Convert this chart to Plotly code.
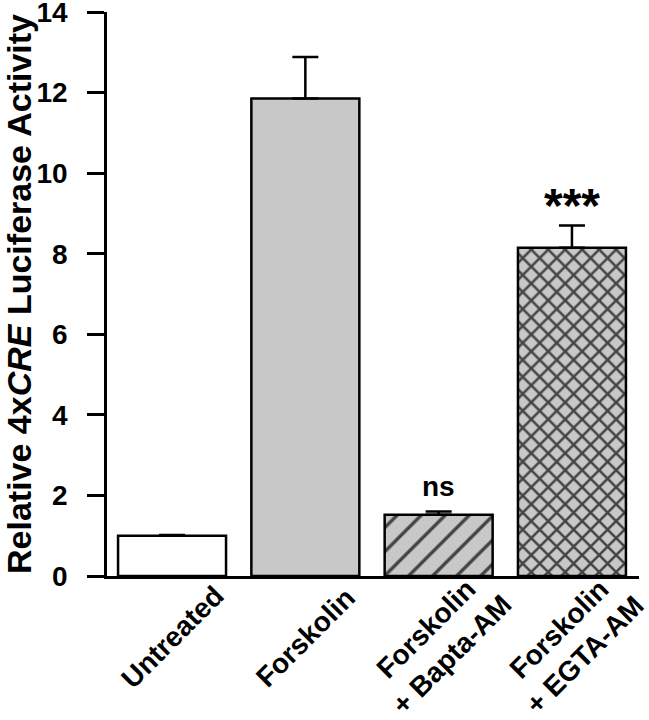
import plotly.graph_objects as go

categories = ["Untreated", "Forskolin", "Forskolin<br>+ Bapta-AM", "Forskolin<br>+ EGTA-AM"]
values = [1.0, 11.85, 1.52, 8.15]
errors = [0.02, 1.03, 0.08, 0.55]
annot_text = ["", "", "ns", "***"]
y_ticks = [0, 2, 4, 6, 8, 10, 12, 14]

FONT = "Liberation Sans, Arial, sans-serif"
GRAY = "#c8c8c8"

x = list(range(len(categories)))
fills = ["white", GRAY, GRAY, GRAY]
shapes = ["", "", "/", "x"]
sizes = [10, 10, 17, 12]
solid = [0.3, 0.3, 0.2, 0.38]

fig = go.Figure()
fig.add_trace(go.Bar(
    x=x, y=values, width=0.81,
    marker=dict(
        color=fills,
        line=dict(color="black", width=2.5),
        pattern=dict(shape=shapes, fgcolor="black", bgcolor=fills, size=sizes,
                     solidity=solid, fillmode="overlay", fgopacity=1),
    ),
    error_y=dict(type="data", array=errors, arrayminus=[0] * 4, symmetric=False,
                 color="black", thickness=2.5, width=13),
    showlegend=False,
))

# significance marks
for i, t in enumerate(annot_text):
    if t:
        fig.add_annotation(x=i, y=values[i] + errors[i], text=f"<b>{t}</b>",
                           showarrow=False, yanchor="bottom",
                           yshift=8 if t == "ns" else -8,
                           font=dict(family=FONT, size=28 if t == "ns" else 48, color="black"))

# rotated category labels, centred under each bar
for i, c in enumerate(categories):
    nlines = c.count("<br>") + 1
    fig.add_annotation(x=i, y=0, text=f"<b>{c}</b>", textangle=-45, showarrow=False,
                       xanchor="center", yanchor="middle", align="center",
                       yshift=-61 - 4 * (nlines - 1),
                       font=dict(family=FONT, size=28, color="black"))

fig.update_layout(
    width=649, height=720,
    margin=dict(l=107, r=10, t=12, b=144, autoexpand=False),
    plot_bgcolor="white", paper_bgcolor="white",
    font=dict(family=FONT, color="black"),
    xaxis=dict(
        range=[-0.488, 3.503], tickmode="array", tickvals=x, showticklabels=False,
        showline=True, linecolor="black", linewidth=2.5, ticks="", showgrid=False,
        zeroline=False, automargin=False,
    ),
    yaxis=dict(
        range=[0, 14], tickmode="array", tickvals=y_ticks,
        ticktext=[f"<b>{v}</b>" for v in y_ticks],
        tickfont=dict(family=FONT, size=28, color="black"),
        ticks="outside", ticklen=17, tickwidth=2.5, tickcolor="black",
        ticklabelstandoff=14, ticklabeloverflow="allow",
        showline=True, linecolor="black", linewidth=2.5, showgrid=False, zeroline=False,
        automargin=True,
        title=dict(text="<b>Relative 4x<i>CRE</i> Luciferase Activity</b>",
                   font=dict(family=FONT, size=34, color="black"), standoff=6),
    ),
)
fig.write_html("out.html", config={"displayModeBar": False},
               post_script="document.body.style.margin='0';")
